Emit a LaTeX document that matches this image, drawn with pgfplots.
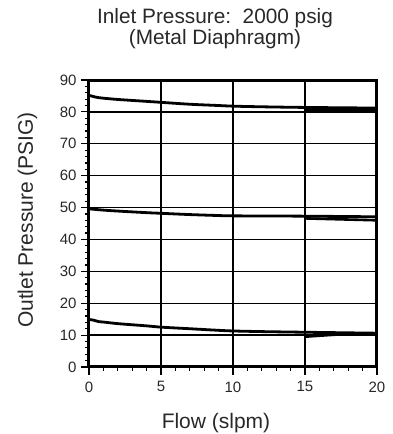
\documentclass[border=0pt]{standalone}
\usepackage{pgfplots}
\pgfplotsset{compat=1.18}
\usepackage{fontspec}
\setmainfont{Liberation Sans}
\definecolor{txt}{RGB}{40,40,40}
\begin{document}
\begin{tikzpicture}
\useasboundingbox (-89pt,-67pt) rectangle (303pt,367pt);
\begin{axis}[
  at={(0pt,0pt)}, anchor=south west,
  scale only axis, width=288pt, height=287pt,
  xmin=0, xmax=20, ymin=0, ymax=90,
  xtick={0,5,10,15,20}, ytick={0,10,...,90},
  minor x tick num=4, minor y tick num=4,
  tick pos=left, tick align=outside,
  major tick length=8pt, minor tick length=4pt,
  every tick/.style={black, line width=1.2pt},
  grid=major,
  major grid style={black, line width=1.3pt},
  axis line style={black, line width=3pt},
  /pgf/number format/assume math mode=true,
  ticklabel style={font=\fontsize{15}{15}\selectfont, text=txt},
  xticklabel style={yshift=-3pt},
  yticklabel style={xshift=-1pt},
  clip=false,
]
\addplot[black, line width=2.8pt, smooth] coordinates {
(0,85.2) (0.5,84.6) (1,84.3) (2,83.9) (4,83.3) (5,83.0) (7,82.4) (9,82.0) (10,81.8) (12,81.6) (15,81.4) (20,81.2)};
\addplot[black, line width=2.6pt] coordinates {(15,80.6) (17.5,80.5) (20,80.5)};
\addplot[black, line width=2.8pt, smooth] coordinates {
(0,49.6) (1,49.2) (2,48.9) (4,48.4) (5,48.2) (7,47.8) (9,47.5) (10,47.4) (15,47.3) (20,47.1)};
\addplot[black, line width=2.6pt] coordinates {(15,46.6) (17.5,46.3) (20,46.0)};
\addplot[black, line width=2.8pt, smooth] coordinates {
(0,14.9) (0.3,14.7) (0.7,14.2) (1,14.1) (2,13.6) (4,12.9) (5,12.5) (7,12.0) (9,11.5) (10,11.3) (12,11.1) (15,10.9) (20,10.6)};
\addplot[black, line width=2.6pt, smooth] coordinates {(15,9.5) (16,9.8) (17,10.1) (18,10.3) (20,10.4)};
\end{axis}
\node[anchor=base, text=txt, font=\fontsize{20.8}{20.8}\selectfont] at (126pt,343pt) {Inlet Pressure:\ \ 2000 psig};
\node[anchor=base, text=txt, font=\fontsize{20.8}{20.8}\selectfont] at (126pt,322pt) {(Metal Diaphragm)};
\node[anchor=base, text=txt, font=\fontsize{21}{21}\selectfont] at (127pt,-61pt) {Flow (slpm)};
\node[anchor=base, rotate=90, text=txt, font=\fontsize{21}{21}\selectfont] at (-56pt,147pt) {Outlet Pressure (PSIG)};
\end{tikzpicture}
\end{document}
